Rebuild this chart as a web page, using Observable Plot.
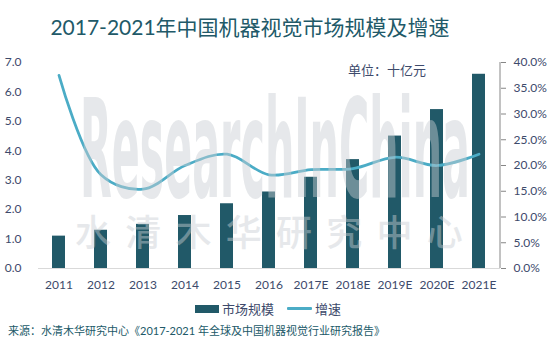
<!DOCTYPE html>
<html>
<head>
<meta charset="utf-8">
<script src="https://cdn.jsdelivr.net/npm/d3@7"></script>
<script src="https://cdn.jsdelivr.net/npm/@observablehq/plot@0.6"></script>
<style>
  html, body { margin: 0; padding: 0; background: #fff; }
  #wrap { position: relative; width: 554px; height: 344px; overflow: hidden;
    font-family: Lato, "Noto Sans CJK SC", sans-serif; }
  #title { position: absolute; left: 0; width: 500px; top: 11px; text-align: center;
    font-size: 21px; color: #215968; white-space: nowrap; }
  #chart { position: absolute; left: 0; top: 0; }
  #legend { position: absolute; left: 195px; top: 299px; font-size: 13px; color: #3d4a6b;
    display: flex; align-items: center; white-space: nowrap; }
  .sw-bar { display: inline-block; width: 24px; height: 8px; background: #215968; margin-right: 3px; }
  .sw-line { display: inline-block; width: 25px; height: 3px; background: #4bacc6; margin: 0 3px 0 13px; border-radius: 1px; }
  #source { position: absolute; left: 8px; top: 322px; font-size: 11px; color: #215968; white-space: nowrap; }
  #unit { position: absolute; left: 348px; top: 60px; font-size: 13px; color: #3d4a6b; white-space: nowrap; }
</style>
</head>
<body>
<div id="wrap">
  <div id="chart"></div>
  <div id="title">2017-2021年中国机器视觉市场规模及增速</div>
  <div id="unit">单位：十亿元</div>
  <div id="legend"><span class="sw-bar"></span>市场规模<span class="sw-line"></span>增速</div>
  <div id="source">来源：水清木华研究中心《2017-2021 年全球及中国机器视觉行业研究报告》</div>
</div>
<script>
const years = ["2011","2012","2013","2014","2015","2016","2017E","2018E","2019E","2020E","2021E"];
const marketSize = [1.1, 1.3, 1.5, 1.8, 2.2, 2.6, 3.1, 3.7, 4.5, 5.4, 6.6];
const growthRate = [37.5, 18.2, 15.4, 20.0, 22.2, 18.2, 19.2, 19.4, 21.6, 20.0, 22.2];
const leftTicks = [0, 1, 2, 3, 4, 5, 6, 7];
const rightTicks = [0, 5, 10, 15, 20, 25, 30, 35, 40];

const table = years.map((y, i) => ({year: y, size: marketSize[i], growth: growthRate[i]}));
const leftMax = 7, rightMax = 40;
const k = leftMax / rightMax;

const plot = Plot.plot({
  width: 554,
  height: 300,
  marginTop: 62,
  marginBottom: 32,
  marginLeft: 38,
  marginRight: 54,
  x: {domain: years, paddingInner: 0.68, paddingOuter: 0.34, axis: null, label: null},
  y: {domain: [0, leftMax], axis: null, label: null},
  style: {fontFamily: 'Lato, "Noto Sans CJK SC", sans-serif', fontSize: "12px", color: "#3d4a6b", background: "transparent"},
  marks: [
    Plot.barY(table, {x: "year", y: "size", fill: "#215968"}),
    Plot.ruleY([0], {stroke: "#d9d9d9", strokeWidth: 1}),
    Plot.line(table, {x: "year", y: d => d.growth * k, stroke: "#4bacc6", strokeWidth: 2.75, curve: "catmull-rom"}),
    Plot.axisX({tickSize: 0, tickPadding: 12, fontSize: 12, label: null}),
    Plot.axisY(leftTicks, {anchor: "left", tickSize: 0, tickPadding: 17, fontSize: 12, label: null, tickFormat: d => d.toFixed(1)}),
    Plot.axisY(rightTicks.map(t => t * k), {anchor: "right", tickSize: 5, tickPadding: 8, stroke: "#868686", fontSize: 12, label: null,
      tickFormat: d => (d / k).toFixed(1) + "%"})
  ]
});
document.getElementById("chart").appendChild(plot);

// right axis line and watermark
const svg = d3.select(plot);
const xs = plot.scale("x"), ys = plot.scale("y");
const xr = xs.range[1];
svg.append("line")
  .attr("x1", xr).attr("x2", xr)
  .attr("y1", ys.apply(0)).attr("y2", ys.apply(leftMax))
  .attr("stroke", "#868686").attr("stroke-width", 1);

const wm = svg.append("g").attr("opacity", 0.45).attr("fill", "#c9ced3").attr("text-anchor", "start");
const t1 = wm.append("text")
  .attr("x", 0).attr("y", 0)
  .attr("text-anchor", "start")
  .attr("font-family", '"DejaVu Sans", sans-serif')
  .attr("font-weight", "bold")
  .attr("font-size", 137)
  .text("ResearchInChina");
const w1 = t1.node().getComputedTextLength();
t1.attr("transform", `translate(80,197) scale(${390 / w1},1)`);

const t2 = wm.append("text")
  .attr("x", 75).attr("y", 246)
  .attr("text-anchor", "start")
  .attr("font-family", '"Noto Sans CJK SC", sans-serif')
  .attr("font-weight", 500)
  .attr("font-size", 36)
  .text("水清木华研究中心");
const w2 = t2.node().getComputedTextLength();
t2.attr("letter-spacing", (395 - w2) / 7.5);
</script>
</body>
</html>
